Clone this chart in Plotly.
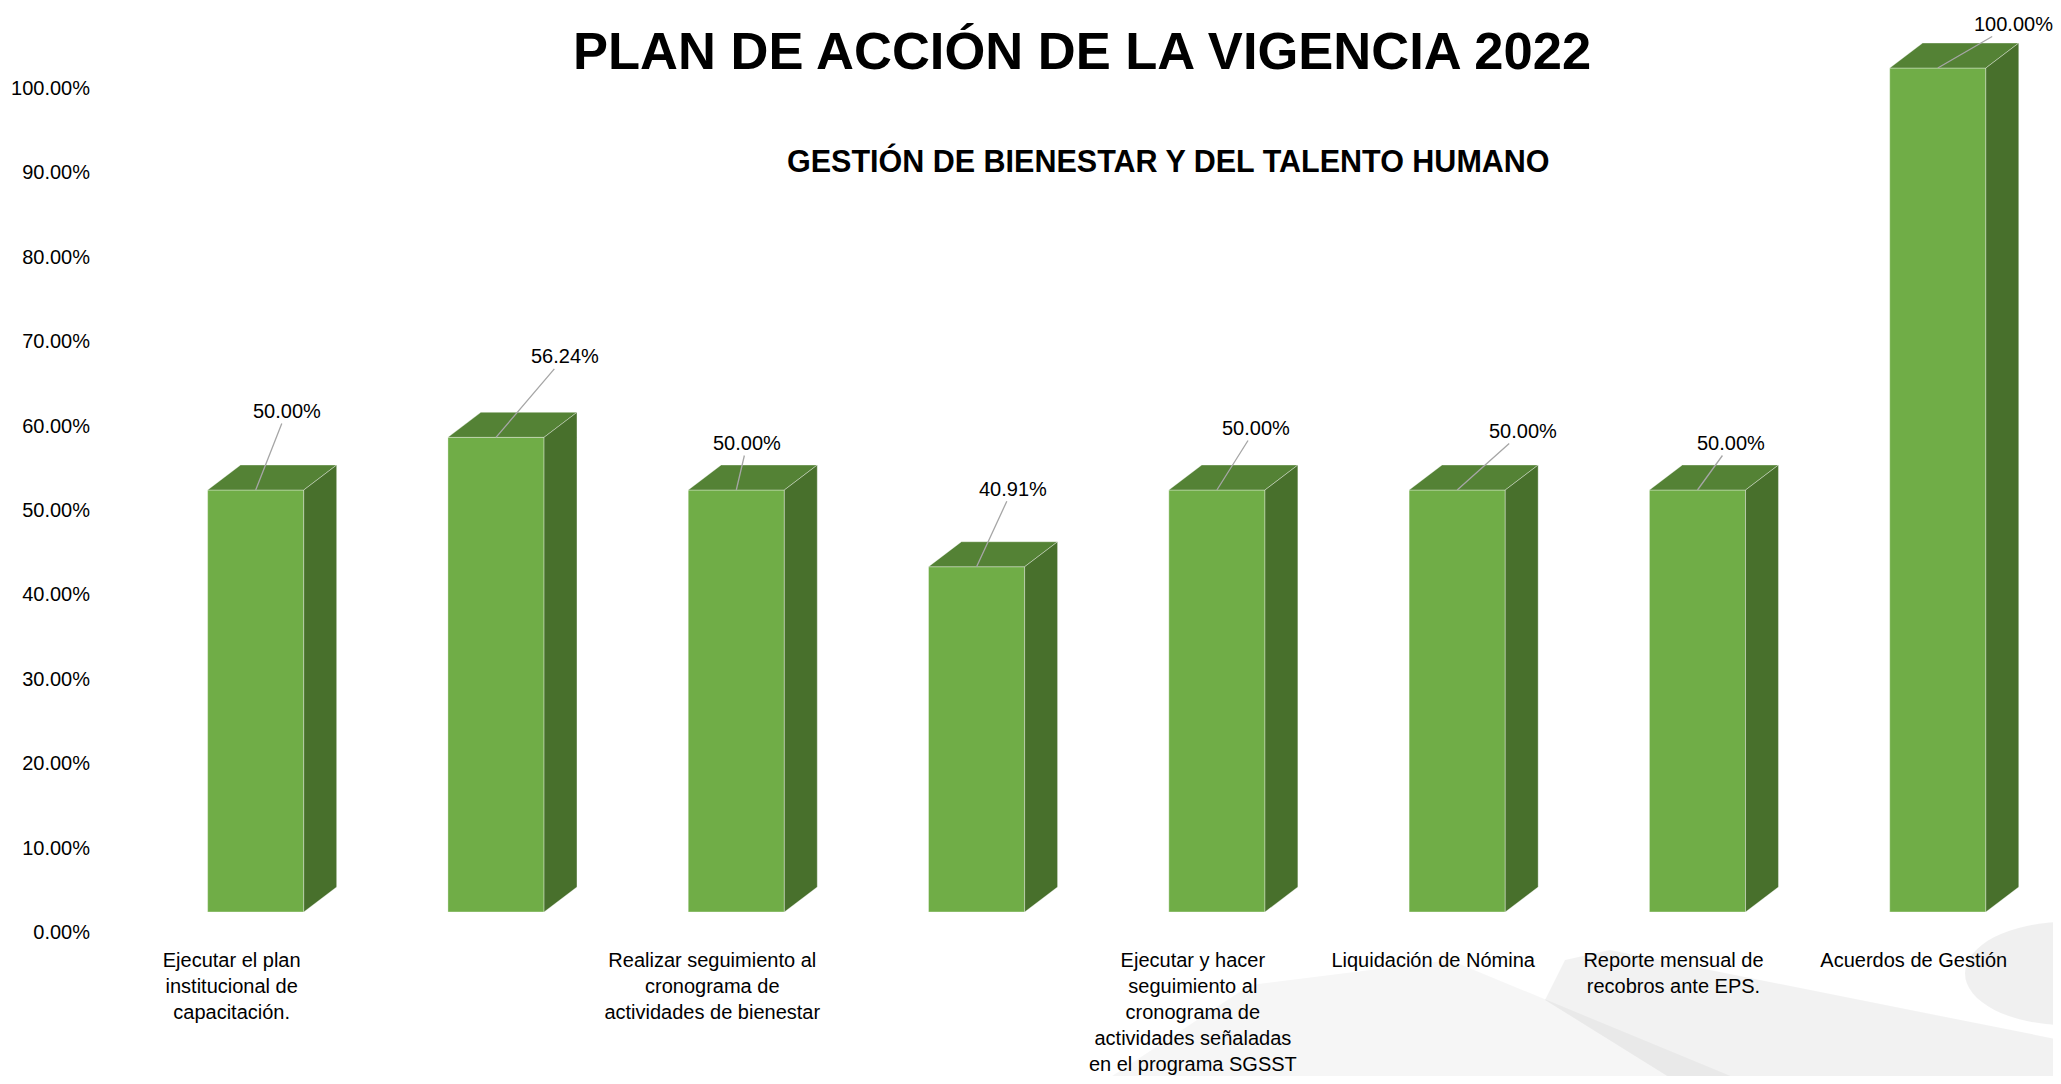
import plotly.graph_objects as go

# data
categories = [
    "Ejecutar el plan<br>institucional de<br>capacitación.",
    "",
    "Realizar seguimiento al<br>cronograma de<br>actividades de bienestar",
    "",
    "Ejecutar y hacer<br>seguimiento al<br>cronograma de<br>actividades señaladas<br>en el programa SGSST",
    "Liquidación de Nómina",
    "Reporte mensual de<br>recobros ante EPS.",
    "Acuerdos de Gestión",
]
values = [0.50, 0.5624, 0.50, 0.4091, 0.50, 0.50, 0.50, 1.00]
y_ticks = [0.0, 0.1, 0.2, 0.3, 0.4, 0.5, 0.6, 0.7, 0.8, 0.9, 1.0]

# label offsets (pixels from top of front face)
label_dx = [31, 69, 11, 36, 39, 66, 34, 76]
label_dy = [-79, -81, -47, -78, -62, -59, -47, -44]

# page body has an 8px margin, so the figure is a bit smaller than the window
OFF = 8
W, H = 2061 - 2 * OFF, 1084 - 2 * OFF
L, R, T, B = 89, 0, 12, 136
PW, PH = W - L - R, H - T - B
FONT = "Liberation Sans Narrow, Arial Narrow, Liberation Sans, Arial, sans-serif"

FRONT = "#70AD47"
TOP = "#548235"
SIDE = "#48702C"
EDGE = "rgba(255,255,255,0.35)"

bar_w = 0.4
depth_x = 0.137   # in category units
depth_y = 0.0296  # in value units
label_shift = 0.1
tick_offset = 0.0237  # axis labels sit slightly below the bar base (3d floor)

xs = list(range(len(values)))

fig = go.Figure()

# front faces
fig.add_trace(go.Bar(
    x=xs, y=values, width=bar_w, marker=dict(color=FRONT, line=dict(color=EDGE, width=1)),
    hoverinfo="skip", showlegend=False,
))

# top and side faces
top_x, top_y, side_x, side_y = [], [], [], []
for x, v in zip(xs, values):
    l, r = x - bar_w / 2, x + bar_w / 2
    top_x += [l, r, r + depth_x, l + depth_x, l, None]
    top_y += [v, v, v + depth_y, v + depth_y, v, None]
    side_x += [r, r, r + depth_x, r + depth_x, r, None]
    side_y += [0, v, v + depth_y, depth_y, 0, None]

fig.add_trace(go.Scatter(x=top_x, y=top_y, fill="toself", fillcolor=TOP, mode="lines",
                         line=dict(color=EDGE, width=1), hoverinfo="skip", showlegend=False))
fig.add_trace(go.Scatter(x=side_x, y=side_y, fill="toself", fillcolor=SIDE, mode="lines",
                         line=dict(color=EDGE, width=1), hoverinfo="skip", showlegend=False))

# data labels with leader lines
for x, v, dx, dy in zip(xs, values, label_dx, label_dy):
    fig.add_annotation(x=x, y=v, xref="x", yref="y", text=f"{v:.2%}",
                       showarrow=True, arrowhead=0, arrowwidth=1.3, arrowcolor="#A6A6A6",
                       ax=dx, ay=dy, font=dict(family=FONT, size=20, color="#000000"))


# screen pixel -> paper coords
def px(s):
    return (s - OFF - L) / PW


def py(s):
    return (H - B - (s - OFF)) / PH


# titles
fig.add_annotation(text="<b>PLAN DE ACCIÓN DE LA VIGENCIA 2022</b>", xref="paper", yref="paper",
                   x=px(1082), y=py(50), xanchor="center", yanchor="middle",
                   showarrow=False, font=dict(family=FONT, size=52.5, color="#000000"))
fig.add_annotation(text="<b>GESTIÓN DE BIENESTAR Y DEL TALENTO HUMANO</b>", xref="paper", yref="paper",
                   x=px(1168), y=py(160), xanchor="center", yanchor="middle",
                   showarrow=False, font=dict(family=FONT, size=30.5, color="#000000"))


# faint watermark in the corner
def path(points):
    return "M " + " L ".join(f"{px(a):.4f},{py(b):.4f}" for a, b in points) + " Z"


fig.add_shape(type="path", xref="paper", yref="paper", layer="below", line_width=0,
              fillcolor="rgba(0,0,0,0.035)",
              path=path([(1100, 1084), (1250, 985), (1450, 960), (1750, 1084)]))
fig.add_shape(type="path", xref="paper", yref="paper", layer="below", line_width=0,
              fillcolor="rgba(0,0,0,0.05)",
              path=path([(1545, 1000), (1565, 960), (1610, 950), (2061, 1040), (2061, 1084), (1680, 1084)]))
fig.add_shape(type="circle", xref="paper", yref="paper", layer="below", line_width=0,
              fillcolor="rgba(0,0,0,0.06)",
              x0=px(1965), x1=px(2165), y0=py(1025), y1=py(922))

fig.update_layout(
    width=W, height=H,
    margin=dict(l=L, r=R, t=T, b=B, autoexpand=False),
    paper_bgcolor="white", plot_bgcolor="rgba(0,0,0,0)",
    font=dict(family=FONT, size=20, color="#000000"),
    showlegend=False,
    xaxis=dict(range=[-0.6604, 7.4795], tickvals=[x - label_shift for x in xs], ticktext=categories,
               showgrid=False, zeroline=False, showline=False, ticks="", tickangle=0,
               automargin=False, ticklabelstandoff=6, tickfont=dict(family=FONT, size=20)),
    yaxis=dict(range=[-0.0332, 1.0569], tickvals=[t - tick_offset for t in y_ticks],
               ticktext=[f"{t:.2%}" for t in y_ticks], ticklabelstandoff=6,
               showgrid=False, zeroline=False, showline=False, ticks="", automargin=False,
               tickfont=dict(family=FONT, size=20)),
)

fig.write_html("out.html")
